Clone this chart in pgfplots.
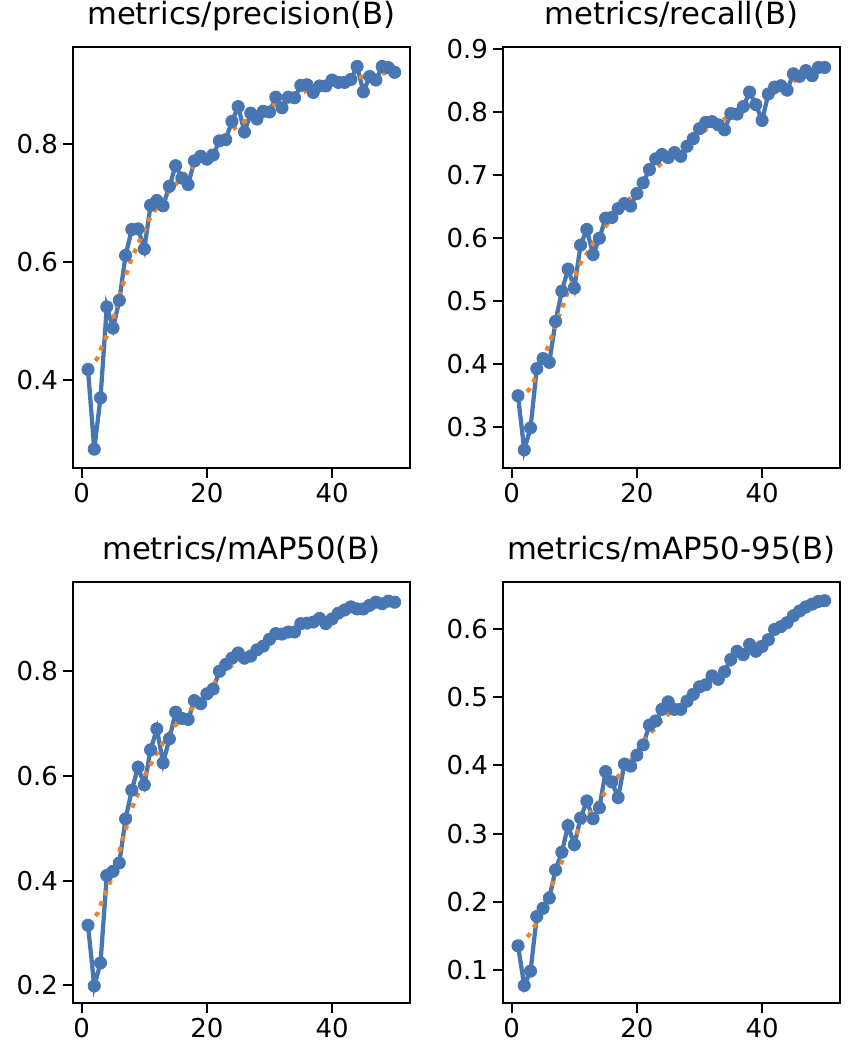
\documentclass[border=0pt]{standalone}
\usepackage{fontspec}
\setmainfont{DejaVu Sans}
\usepackage{pgfplots}
\pgfplotsset{compat=1.18}
\definecolor{cblue}{RGB}{72,118,178}
\definecolor{corange}{RGB}{235,132,45}
\pgfplotsset{
 panel/.style={
  scale only axis, width=253pt, height=315.75pt, anchor=south west,
  xmin=-1.45, xmax=52.45, xtick={0,20,40},
  axis line style={line width=1.5pt},
  every tick/.style={black, line width=1.5pt},
  major tick length=7.5pt, tick align=outside, tick pos=left,
  ticklabel style={font=\fontsize{19.5}{21}\selectfont},
  /pgf/number format/assume math mode=true,
  yticklabel style={/pgf/number format/.cd, fixed, fixed zerofill, precision=1},
  title style={font=\fontsize{23}{27}\selectfont, anchor=base, at={(0.5,1)}, yshift=11pt},
 },
 rawline/.style={cblue, line width=3.2pt, mark=*, mark size=4.6pt, mark options={solid, fill=cblue, draw=cblue, line width=0.6pt}},
 smoothline/.style={corange, line width=3.2pt, dash pattern=on 3.6pt off 5pt, mark=none}
}
\begin{document}
\begin{tikzpicture}
% ---------- precision
\begin{axis}[panel, at={(54.5pt,444.5pt)}, ymin=0.2506, ymax=0.9634, ytick={0.4,0.6,0.8},
  title={metrics/precision(B)}]
\addplot[rawline] coordinates {
(1,0.418)(2,0.283)(3,0.370)(4,0.524)(5,0.488)(6,0.535)(7,0.611)(8,0.655)(9,0.656)(10,0.622)
(11,0.696)(12,0.704)(13,0.695)(14,0.728)(15,0.763)(16,0.742)(17,0.731)(18,0.771)(19,0.779)(20,0.774)
(21,0.781)(22,0.805)(23,0.807)(24,0.838)(25,0.863)(26,0.820)(27,0.852)(28,0.842)(29,0.855)(30,0.854)
(31,0.879)(32,0.861)(33,0.879)(34,0.878)(35,0.899)(36,0.900)(37,0.887)(38,0.898)(39,0.898)(40,0.908)
(41,0.904)(42,0.904)(43,0.909)(44,0.931)(45,0.888)(46,0.914)(47,0.908)(48,0.931)(49,0.929)(50,0.921)};
\addplot[smoothline] coordinates {
(1,0.418)(2.45,0.436)(3.25,0.457)(4.16,0.479)(4.96,0.500)(6.0,0.542)(6.7,0.566)(7.36,0.587)(8.05,0.608)
(9.0,0.631)(9.86,0.650)(10.8,0.672)(11.9,0.691)(13.2,0.711)(14.6,0.726)(16.05,0.744)(17.65,0.760)
(19.25,0.775)(20.8,0.790)(22.4,0.806)(23.9,0.823)(25.6,0.835)(27.5,0.846)(29.3,0.859)(31.4,0.869)
(33.2,0.879)(35.2,0.887)(37.2,0.895)(39.2,0.901)(41.5,0.906)(43.5,0.911)(45.6,0.915)(47.7,0.919)(50,0.921)};
\end{axis}
% ---------- recall
\begin{axis}[panel, at={(377pt,444.5pt)}, ymin=0.2348, ymax=0.903, ytick={0.3,0.4,0.5,0.6,0.7,0.8,0.9},
  title={metrics/recall(B)}]
\addplot[rawline] coordinates {
(1,0.350)(2,0.264)(3,0.299)(4,0.393)(5,0.409)(6,0.403)(7,0.468)(8,0.516)(9,0.551)(10,0.521)
(11,0.589)(12,0.614)(13,0.574)(14,0.600)(15,0.632)(16,0.633)(17,0.647)(18,0.655)(19,0.651)(20,0.671)
(21,0.688)(22,0.709)(23,0.726)(24,0.733)(25,0.728)(26,0.736)(27,0.730)(28,0.746)(29,0.758)(30,0.774)
(31,0.784)(32,0.785)(33,0.780)(34,0.772)(35,0.798)(36,0.797)(37,0.809)(38,0.832)(39,0.812)(40,0.787)
(41,0.829)(42,0.840)(43,0.842)(44,0.835)(45,0.861)(46,0.857)(47,0.866)(48,0.858)(49,0.871)(50,0.871)};
\addplot[smoothline] coordinates {
(1,0.345)(2.8,0.360)(3.8,0.379)(4.7,0.399)(6.2,0.439)(7.6,0.478)(8.4,0.499)(9.1,0.519)(10.1,0.539)
(10.9,0.559)(12.1,0.577)(13.2,0.595)(14.4,0.611)(15.7,0.628)(17.2,0.644)(18.6,0.660)(20.0,0.676)
(21.4,0.693)(22.8,0.709)(24.4,0.723)(26.2,0.737)(27.9,0.749)(29.6,0.762)(31.4,0.775)(33.2,0.785)
(35.1,0.795)(37.0,0.805)(39.0,0.815)(40.9,0.825)(42.7,0.835)(44.6,0.846)(46.4,0.857)(48.3,0.863)(50,0.867)};
\end{axis}
% ---------- mAP50
\begin{axis}[panel, at={(54.5pt,43.3pt)}, ymin=0.166, ymax=0.970, ytick={0.2,0.4,0.6,0.8},
  title={metrics/mAP50(B)}]
\addplot[rawline] coordinates {
(1,0.315)(2,0.199)(3,0.243)(4,0.410)(5,0.418)(6,0.434)(7,0.518)(8,0.573)(9,0.617)(10,0.583)
(11,0.650)(12,0.690)(13,0.625)(14,0.671)(15,0.722)(16,0.710)(17,0.708)(18,0.744)(19,0.738)(20,0.757)
(21,0.766)(22,0.800)(23,0.813)(24,0.825)(25,0.835)(26,0.825)(27,0.829)(28,0.841)(29,0.848)(30,0.861)
(31,0.872)(32,0.871)(33,0.875)(34,0.875)(35,0.891)(36,0.892)(37,0.894)(38,0.901)(39,0.891)(40,0.900)
(41,0.911)(42,0.917)(43,0.923)(44,0.919)(45,0.919)(46,0.926)(47,0.932)(48,0.929)(49,0.934)(50,0.932)};
\addplot[smoothline] coordinates {
(1,0.316)(2.55,0.338)(3.25,0.361)(4.16,0.386)(4.96,0.411)(6.1,0.459)(6.7,0.485)(7.3,0.509)(7.85,0.534)
(8.7,0.558)(10.2,0.604)(11.25,0.628)(12.3,0.650)(13.5,0.673)(14.8,0.695)(16.3,0.712)(17.8,0.732)
(19.25,0.751)(20.7,0.770)(22.0,0.789)(23.5,0.806)(25.2,0.824)(27.1,0.838)(28.96,0.851)(30.8,0.862)
(32.8,0.873)(34.8,0.884)(36.8,0.892)(38.8,0.900)(40.8,0.908)(42.8,0.917)(44.95,0.923)(47.1,0.927)(50,0.931)};
\end{axis}
% ---------- mAP50-95
\begin{axis}[panel, at={(377pt,43.3pt)}, ymin=0.052, ymax=0.668, ytick={0.1,0.2,0.3,0.4,0.5,0.6},
  title={metrics/mAP50-95(B)}]
\addplot[rawline] coordinates {
(1,0.136)(2,0.078)(3,0.099)(4,0.179)(5,0.191)(6,0.206)(7,0.247)(8,0.273)(9,0.312)(10,0.284)
(11,0.323)(12,0.348)(13,0.322)(14,0.338)(15,0.391)(16,0.376)(17,0.353)(18,0.402)(19,0.399)(20,0.415)
(21,0.430)(22,0.459)(23,0.465)(24,0.482)(25,0.493)(26,0.482)(27,0.482)(28,0.494)(29,0.504)(30,0.515)
(31,0.518)(32,0.531)(33,0.526)(34,0.537)(35,0.555)(36,0.567)(37,0.562)(38,0.577)(39,0.567)(40,0.574)
(41,0.584)(42,0.599)(43,0.603)(44,0.609)(45,0.619)(46,0.626)(47,0.632)(48,0.636)(49,0.640)(50,0.641)};
\addplot[smoothline] coordinates {
(1,0.139)(2.8,0.152)(3.9,0.169)(4.85,0.189)(6.4,0.224)(7.3,0.243)(8.1,0.261)(8.9,0.279)(10.1,0.296)
(11.06,0.313)(12.4,0.329)(13.7,0.345)(14.95,0.361)(16.3,0.376)(17.7,0.392)(19.0,0.407)(20.3,0.423)
(21.5,0.440)(22.9,0.455)(24.4,0.470)(26.0,0.483)(27.7,0.495)(29.3,0.507)(31.0,0.519)(32.7,0.531)
(34.4,0.544)(36.1,0.556)(37.8,0.567)(39.5,0.579)(41.3,0.590)(43.0,0.602)(44.8,0.614)(46.5,0.623)(48.6,0.632)(50,0.637)};
\end{axis}
\pgfresetboundingbox
\useasboundingbox (0,0) rectangle (642pt,795.75pt);
\end{tikzpicture}
\end{document}
